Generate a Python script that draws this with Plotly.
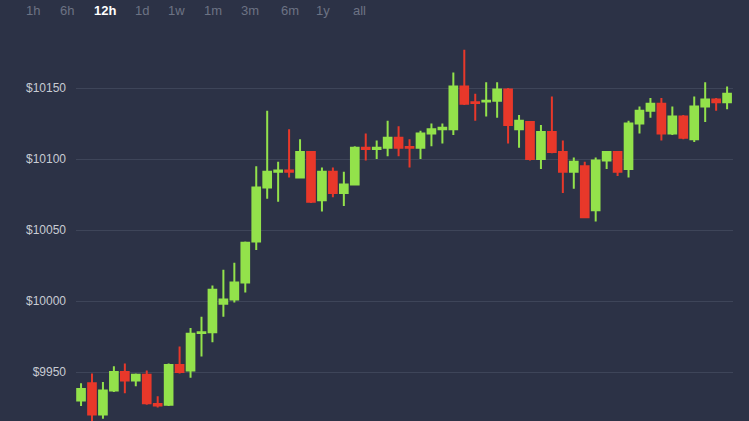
import plotly.graph_objects as go

# ---- data ----
periods = list(range(60))
opens = [9930, 9942, 9920, 9937, 9950, 9944, 9948, 9927.5, 9927, 9955,
         9951, 9977.5, 9978, 9998, 10001, 10013, 10042, 10080, 10091, 10092,
         10087, 10105, 10071, 10091, 10076, 10082, 10108, 10107, 10108, 10115,
         10108.5, 10108, 10118, 10121, 10121, 10151, 10140, 10140.5, 10141, 10149,
         10121, 10126, 10100, 10119, 10105, 10091, 10095, 10064, 10099, 10105,
         10093, 10125, 10134, 10139, 10118, 10130, 10114, 10137, 10142, 10140]
highs = [9942, 9949, 9943, 9954, 9956, 9949, 9951, 9933, 9956, 9968,
         9981, 9989, 10011, 10022, 10027, 10042, 10095, 10134, 10098, 10121,
         10114, 10105, 10094, 10094, 10091, 10109, 10118, 10113, 10127, 10123,
         10114, 10120, 10125, 10125, 10161, 10177, 10146, 10154, 10154, 10150,
         10131, 10126.5, 10124, 10144, 10113, 10101, 10098, 10101, 10105, 10105.5,
         10127, 10137, 10143, 10143, 10137, 10131, 10144, 10154, 10143, 10151]
lows = [9926, 9912, 9917, 9936, 9935, 9940, 9927, 9925, 9926, 9949,
        9946, 9961, 9971, 9989, 9999, 10006, 10036, 10072, 10070, 10087,
        10087, 10069, 10063, 10073, 10067, 10082, 10099, 10100, 10102, 10102,
        10094, 10100, 10109, 10111, 10117, 10138, 10127, 10130, 10129, 10111,
        10108, 10099, 10093, 10104, 10076, 10079, 10059, 10056, 10093, 10088,
        10087, 10118, 10129, 10113, 10117, 10114, 10112, 10126, 10134, 10135]
closes = [9938, 9920, 9937, 9950, 9944, 9948, 9928, 9926.5, 9955, 9950,
          9977, 9978, 10008, 10001, 10013, 10041, 10080, 10091, 10092, 10091,
          10105, 10070, 10091, 10076, 10082, 10108, 10107, 10108, 10115, 10108,
          10108, 10118, 10121, 10122, 10151, 10139, 10139.5, 10141, 10149, 10124,
          10127, 10100, 10119, 10105, 10091, 10098, 10059, 10099, 10105, 10091,
          10125, 10134, 10139, 10118, 10130, 10115, 10137, 10142, 10140, 10146]

tick_vals = [9950, 10000, 10050, 10100, 10150]
tick_text = ["$9950", "$10000", "$10050", "$10100", "$10150"]

buttons = ["1h", "6h", "12h", "1d", "1w", "1m", "3m", "6m", "1y", "all"]
button_px = [33, 67, 105, 142, 176, 213, 250, 290, 323, 359]
active_button = "12h"

# ---- style ----
BG = "#2c3246"
GRID = "#3e4559"
GREEN = "#93e24b"
RED = "#e8382a"
FONT = "Liberation Sans, Arial, sans-serif"

W, H = 749, 421
ML, MR, MT, MB = 76, 16, 0, 0

fig = go.Figure(go.Candlestick(
    x=periods, open=opens, high=highs, low=lows, close=closes,
    increasing=dict(line=dict(color=GREEN, width=2), fillcolor=GREEN),
    decreasing=dict(line=dict(color=RED, width=2), fillcolor=RED),
    whiskerwidth=0,
    hoverinfo="skip",
    showlegend=False,
))

plot_w = W - ML - MR
for label, px in zip(buttons, button_px):
    active = label == active_button
    fig.add_annotation(
        x=(px - ML) / plot_w, y=1 - 11 / H, xref="paper", yref="paper",
        text=f"<b>{label}</b>" if active else label,
        showarrow=False, xanchor="center", yanchor="middle",
        font=dict(family=FONT, size=13, color="#ffffff" if active else "#6d7384"),
    )

fig.update_layout(
    width=W, height=H,
    margin=dict(l=ML, r=MR, t=MT, b=MB),
    paper_bgcolor=BG, plot_bgcolor=BG,
    boxgap=0.3, boxgroupgap=0,
    showlegend=False,
    xaxis=dict(range=[-0.46, 59.54], showgrid=False, zeroline=False,
               showticklabels=False, rangeslider=dict(visible=False),
               showline=False, fixedrange=True),
    yaxis=dict(range=[9915.5, 10212], tickvals=tick_vals, ticktext=tick_text,
               showgrid=True, gridcolor=GRID, gridwidth=1, zeroline=False,
               showline=False, ticks="", ticklabelstandoff=9,
               tickfont=dict(family=FONT, size=12, color="#c8cbd3"),
               fixedrange=True),
)

fig.write_html(
    "out.html",
    config={"displayModeBar": False},
    post_script="document.body.style.margin='0';document.body.style.overflow='hidden';document.body.style.background='" + BG + "';",
)
